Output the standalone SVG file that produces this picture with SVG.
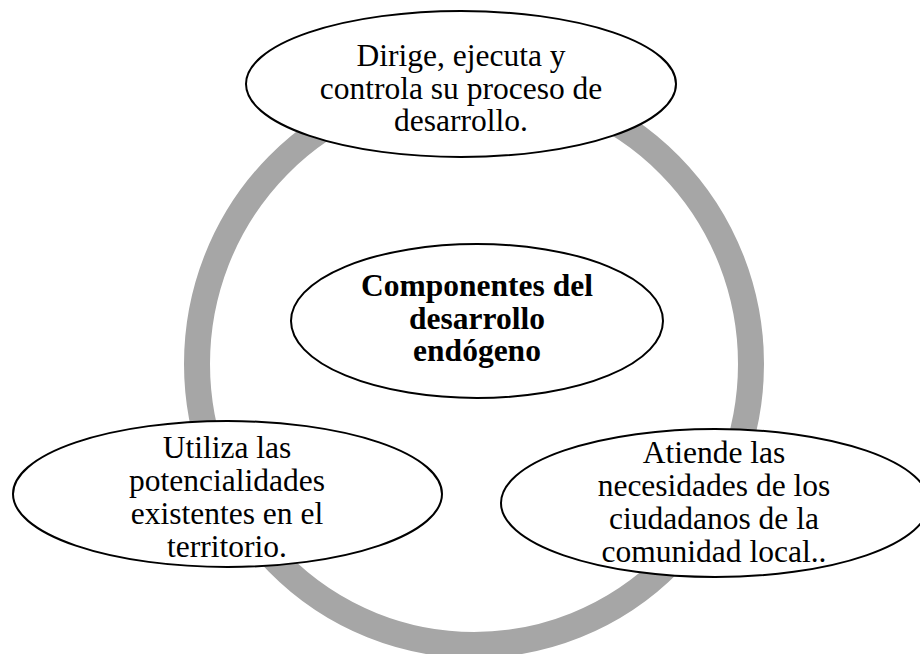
<svg xmlns="http://www.w3.org/2000/svg" width="920" height="654" viewBox="0 0 920 654">
<style>
.node{fill:#ffffff;stroke:#000000;stroke-width:2}
.t{font-family:"Liberation Serif","Times New Roman",serif;font-size:31.5px;fill:#000000;text-anchor:middle}
.b{font-weight:bold}
</style>
<rect width="920" height="654" fill="#ffffff"/>
<g id="connectors">
<ellipse cx="474" cy="364" rx="277" ry="281" fill="none" stroke="#a6a6a6" stroke-width="26"/>
</g>
<g id="center">
<ellipse class="node" cx="477" cy="321" rx="186" ry="77"/>
<text class="t b" x="477" y="296">Componentes del</text>
<text class="t b" x="477" y="328.5">desarrollo</text>
<text class="t b" x="477" y="361">endógeno</text>
</g>
<g id="top">
<ellipse class="node" cx="461" cy="84" rx="215" ry="73"/>
<text class="t" x="461" y="66">Dirige, ejecuta y</text>
<text class="t" x="461" y="98.5">controla su proceso de</text>
<text class="t" x="461" y="131">desarrollo.</text>
</g>
<g id="left">
<ellipse class="node" cx="227.5" cy="494" rx="214.5" ry="73"/>
<text class="t" x="227" y="458">Utiliza las</text>
<text class="t" x="227" y="491">potencialidades</text>
<text class="t" x="227" y="524">existentes en el</text>
<text class="t" x="227" y="557">territorio.</text>
</g>
<g id="right">
<ellipse class="node" cx="715" cy="503" rx="214" ry="74"/>
<text class="t" x="714" y="463">Atiende las</text>
<text class="t" x="714" y="496">necesidades de los</text>
<text class="t" x="714" y="529">ciudadanos de la</text>
<text class="t" x="714" y="562">comunidad local..</text>
</g>
</svg>
